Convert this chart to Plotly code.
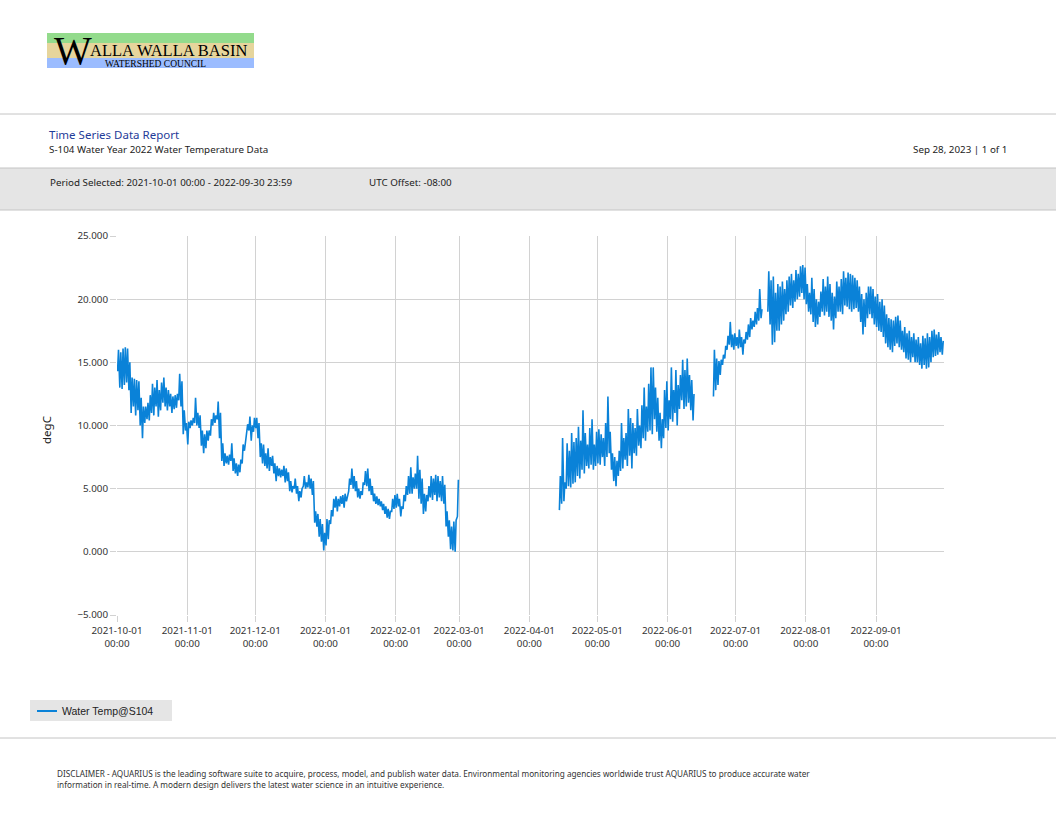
import pandas as pd
import plotly.graph_objs as go

# daily low / high water temperature (degC), per continuous run of data
seg1_start = '2021-10-01'
seg1_lo = [14.3, 13.0, 12.9, 13.2, 13.4, 12.8, 11.0, 11.5, 10.8, 11.2, 10.0, 9.0, 10.2, 10.5, 10.4, 11.0,
           10.8, 11.5, 10.7, 11.2, 11.8, 11.5, 11.2, 11.5, 11.0, 11.3, 11.4, 12.0, 11.5, 9.3, 9.6,
           # Nov
           8.5, 9.8, 10.0, 10.2, 10.0, 9.8, 8.4, 7.8, 8.2, 8.8, 9.2, 10.0, 10.2, 10.5, 9.0, 7.2,
           6.8, 7.0, 6.9, 7.2, 6.4, 6.2, 6.0, 6.3, 7.0, 8.0, 9.2, 9.6, 8.8, 9.5,
           # Dec
           9.8, 9.0, 7.5, 7.0, 6.8, 6.6, 6.4, 6.8, 6.2, 5.6, 6.0, 5.9, 6.0, 5.5, 5.6, 4.8,
           4.7, 5.0, 4.6, 4.0, 4.3, 5.2, 5.0, 5.1, 5.0, 4.5, 2.3, 2.0, 1.2, 0.8, 0.1,
           # Jan
           0.5, 1.0, 2.2, 2.8, 3.5, 3.2, 3.6, 3.8, 3.5, 4.0, 4.8, 5.3, 5.0, 4.8, 4.3, 4.2,
           4.5, 5.3, 5.2, 4.8, 4.5, 4.0, 3.8, 3.7, 3.6, 3.3, 3.0, 2.7, 2.6, 3.2, 3.4,
           # Feb
           3.5, 3.6, 2.8, 3.4, 4.0, 4.5, 4.6, 4.6, 5.0, 5.0, 4.2, 3.8, 3.0, 3.2, 4.0, 4.3,
           4.1, 4.5, 4.0, 4.3, 4.0, 3.8, 2.0, 1.2, 0.2, 0.1, 0.0, 2.8]
seg1_hi = [16.0, 15.8, 16.1, 16.2, 16.1, 15.0, 13.8, 13.7, 13.6, 13.5, 12.2, 11.5, 11.5, 11.8, 12.4, 13.3,
           13.0, 13.6, 12.8, 13.4, 13.8, 13.0, 12.8, 12.5, 12.3, 12.4, 12.5, 14.1, 13.5, 11.2, 10.2,
           10.3, 10.4, 10.6, 12.2, 11.0, 10.8, 9.6, 9.3, 9.6, 9.6, 10.5, 11.0, 10.8, 11.9, 11.0, 8.6,
           7.8, 7.6, 7.7, 8.6, 7.4, 7.0, 6.9, 7.3, 8.5, 8.6, 10.1, 10.7, 10.0, 10.6,
           10.6, 10.2, 8.6, 8.5, 7.8, 8.2, 7.5, 7.6, 7.0, 6.8, 6.6, 6.5, 6.8, 6.6, 6.3, 5.6,
           5.2, 5.8, 5.2, 4.8, 5.0, 6.0, 5.5, 6.1, 5.8, 5.6, 3.2, 3.0, 2.6, 2.2, 1.5,
           2.6, 2.5, 3.3, 4.2, 4.4, 4.2, 4.4, 4.5, 4.6, 4.5, 5.8, 6.6, 6.0, 5.6, 5.0, 4.8,
           5.5, 6.4, 6.6, 5.8, 5.2, 4.6, 4.4, 4.2, 4.0, 3.8, 3.6, 3.4, 3.2, 4.2, 4.5,
           4.6, 4.2, 3.6, 4.5, 5.2, 6.0, 6.7, 5.9, 6.2, 7.6, 6.5, 5.8, 4.6, 4.5, 5.2, 6.0,
           5.8, 6.1, 6.0, 5.6, 6.0, 5.3, 3.2, 2.5, 2.0, 2.4, 2.5, 5.7]

seg2_start = '2022-04-14'
seg2_lo = [3.3, 3.8, 4.0, 5.0, 5.2, 5.1, 5.4, 5.5, 6.0, 5.8, 6.5, 6.2, 6.8, 6.6, 6.9, 6.5, 6.8,
           # May
           7.0, 6.9, 7.5, 6.8, 7.5, 7.8, 6.5, 5.6, 5.2, 6.0, 6.4, 6.6, 7.3, 6.8, 7.6, 6.6,
           7.8, 7.6, 8.4, 8.2, 9.0, 8.8, 9.5, 9.6, 9.3, 10.5, 9.5, 8.8, 8.2, 9.0, 9.8,
           # Jun
           9.6, 10.5, 10.3, 11.0, 10.0, 11.3, 12.0, 11.3, 11.5, 11.8, 11.2, 10.4]
seg2_hi = [6.0, 9.0, 5.5, 8.6, 8.0, 9.4, 8.7, 9.0, 9.9, 8.8, 11.2, 9.4, 8.5, 9.8, 10.5, 8.5, 9.5,
           9.7, 9.3, 9.0, 10.2, 12.3, 9.5, 7.8, 7.5, 7.2, 8.0, 10.2, 9.0, 9.4, 11.3, 10.6, 10.2,
           9.8, 11.3, 10.0, 11.6, 13.0, 11.5, 13.3, 14.6, 14.6, 13.0, 12.2, 11.0, 10.5, 12.8, 13.5,
           12.0, 14.6, 12.8, 14.4, 13.2, 14.0, 15.2, 14.4, 15.3, 14.0, 13.6, 12.5]

seg3_start = '2022-06-21'
seg3_lo = [12.3, 12.8, 13.2, 14.0, 14.8, 15.3, 16.0, 16.4, 16.2, 16.0,
           16.3, 16.1, 16.2, 15.6, 16.5, 16.8, 17.0, 17.6, 17.8, 18.0, 18.3, 18.5]
seg3_hi = [16.0, 15.3, 15.1, 15.2, 15.6, 16.3, 17.1, 18.2, 17.2, 17.3,
           17.0, 17.6, 17.0, 16.8, 17.4, 18.0, 18.5, 18.3, 19.0, 19.3, 20.8, 19.2]

seg4_start = '2022-07-15'
seg4_lo = [19.0, 18.0, 16.4, 16.6, 17.5, 17.5, 18.0, 18.3, 18.8, 19.0, 19.5, 19.3, 19.8, 20.0, 20.2, 20.5, 20.0,
           # Aug
           19.6, 19.0, 18.8, 18.2, 17.8, 18.0, 18.6, 19.0, 18.7, 19.0, 18.6, 18.3, 17.6, 18.5, 19.0, 19.0,
           18.8, 19.5, 19.4, 19.2, 19.0, 19.2, 19.3, 19.0, 18.2, 17.2, 17.8, 18.5, 18.8, 18.5, 18.0,
           # Sep
           17.8, 17.5, 17.4, 17.0, 16.5, 16.2, 16.0, 15.8, 16.3, 16.5, 16.2, 16.0, 15.8, 15.3, 15.2,
           15.0, 15.4, 15.0, 15.0, 14.8, 14.5, 14.8, 14.5, 14.6, 15.0, 15.4, 15.5, 15.6, 15.8, 15.6]
seg4_hi = [22.2, 21.5, 21.8, 20.5, 21.2, 21.0, 21.4, 20.8, 21.5, 21.8, 22.0, 21.5, 22.3, 22.0, 22.6, 22.7, 22.5,
           21.2, 20.5, 21.7, 20.8, 20.0, 19.8, 20.6, 21.6, 21.0, 21.8, 21.2, 20.5, 20.2, 21.4, 21.0, 21.6,
           22.2, 21.7, 22.1, 22.0, 21.9, 21.7, 21.5, 21.0, 20.4, 20.0, 20.5, 21.0, 21.0, 20.8, 20.2,
           20.4, 19.8, 20.0, 19.5, 18.8, 18.5, 18.4, 18.3, 18.6, 18.7, 18.3, 17.5, 17.8, 17.3, 17.5,
           17.0, 17.3, 16.8, 17.0, 16.5, 17.1, 16.9, 17.3, 17.0, 17.5, 17.6, 17.2, 17.4, 17.0, 16.7]

segments = [(seg1_start, seg1_lo, seg1_hi), (seg2_start, seg2_lo, seg2_hi),
            (seg3_start, seg3_lo, seg3_hi), (seg4_start, seg4_lo, seg4_hi)]

x_ticks = pd.date_range('2021-10-01', '2022-09-01', freq='MS')

# page geometry (pixels) of the plot area, used to place the report furniture
W, H = 1056, 816
L, R, T, B = 117, 944, 236, 615
LINE_COLOR = '#0a82d8'


def px(x):
    return (x - L) / (R - L)


def py(y):
    return (B - y) / (B - T)


def build_series(segs):
    xs, ys = [], []
    for start, lo, hi in segs:
        day0 = pd.Timestamp(start)
        for i, (a, b) in enumerate(zip(lo, hi)):
            d = day0 + pd.Timedelta(days=i)
            xs += [d + pd.Timedelta(hours=6), d + pd.Timedelta(hours=16)]
            ys += [a, b]
        xs.append(xs[-1] + pd.Timedelta(hours=1))
        ys.append(None)
    return xs, ys


xs, ys = build_series(segments)

fig = go.Figure(go.Scatter(
    name='Water Temp@S104',
    x=xs, y=ys,
    mode='lines',
    connectgaps=False,
    showlegend=False,
    line=dict(color=LINE_COLOR, width=1.6),
))

grid = '#d2d2d2'
tickfont = dict(family='Noto Sans, Open Sans, sans-serif', size=9.8, color='#333333')
fig.update_xaxes(type='date', range=['2021-10-01', '2022-09-30 23:59'],
                 tickvals=x_ticks, tickformat='%Y-%m-%d<br>%H:%M',
                 showgrid=True, gridcolor=grid, gridwidth=1, zeroline=False,
                 ticks='outside', ticklen=6, tickcolor=grid, tickfont=tickfont, showline=False)
fig.update_yaxes(range=[-5, 25], dtick=5, tickformat='.3f',
                 showgrid=True, gridcolor=grid, gridwidth=1, zeroline=False,
                 ticks='outside', ticklen=6, tickcolor=grid, tickfont=tickfont, showline=False)

rule = dict(type='line', xref='paper', yref='paper', line=dict(color='#c4c4c4', width=1))
box = dict(type='rect', xref='paper', yref='paper', line=dict(width=0), layer='below')
shapes = [
    # logo stripes
    dict(box, x0=px(47), x1=px(254), y0=py(43), y1=py(33), fillcolor='#93db8c'),
    dict(box, x0=px(47), x1=px(254), y0=py(58), y1=py(43), fillcolor='#e6d59c'),
    dict(box, x0=px(47), x1=px(254), y0=py(68), y1=py(58), fillcolor='#9bbcff'),
    dict(rule, x0=px(0), x1=px(W), y0=py(114), y1=py(114)),
    # grey band with the period selected
    dict(box, x0=px(0), x1=px(W), y0=py(210), y1=py(168), fillcolor='#e5e5e5'),
    dict(rule, x0=px(0), x1=px(W), y0=py(168), y1=py(168)),
    dict(rule, x0=px(0), x1=px(W), y0=py(210), y1=py(210)),
    # legend box
    dict(box, x0=px(30), x1=px(172), y0=py(721), y1=py(700), fillcolor='#e5e5e5'),
    dict(type='line', xref='paper', yref='paper', x0=px(37), x1=px(57), y0=py(711), y1=py(711),
         line=dict(color=LINE_COLOR, width=2)),
    dict(rule, x0=px(0), x1=px(W), y0=py(738), y1=py(738)),
]

hdr = 'Noto Sans, Open Sans, sans-serif'
serif = 'Liberation Serif, serif'


def note(x, y, text, size, color='#222222', family=hdr, xanchor='left', **kw):
    return dict(x=px(x), y=py(y), xref='paper', yref='paper', text=text, showarrow=False,
                xanchor=xanchor, yanchor='middle', borderpad=0,
                font=dict(family=family, size=size, color=color), **kw)


annotations = [
    note(53, 51, 'W', 40, color='black', family=serif),
    note(89, 51, 'ALLA WALLA BASIN', 16.5, color='black', family=serif),
    note(104, 64, 'WATERSHED COUNCIL', 9.5, color='black', family=serif),
    note(48, 134, 'Time Series Data Report', 11.5, color='#1f3c99'),
    note(48, 150, 'S-104 Water Year 2022 Water Temperature Data', 9.8),
    note(1008, 150, 'Sep 28, 2023 | 1 of 1', 9.8, xanchor='right'),
    note(49, 183, 'Period Selected: 2021-10-01 00:00 - 2022-09-30 23:59', 9.8),
    note(368, 183, 'UTC Offset: -08:00', 9.8),
    note(46, 430, 'degC', 11.5, color='#222222', textangle=-90, xanchor='center'),
    note(61, 711, 'Water Temp@S104', 10.5, family='Liberation Sans, Arial, sans-serif'),
    note(56, 779, 'DISCLAIMER - AQUARIUS is the leading software suite to acquire, process, model, and publish '
                  'water data. Environmental monitoring agencies worldwide trust AQUARIUS to produce accurate water'
                  '<br>information in real-time. A modern design delivers the latest water science in an intuitive '
                  'experience.', 8.2, color='#333333', align='left'),
]

fig.update_layout(
    width=W, height=H, autosize=False,
    margin=dict(l=L, r=W - R, t=T, b=H - B, pad=0),
    paper_bgcolor='white', plot_bgcolor='white',
    shapes=shapes, annotations=annotations,
)

# the report page has no body margin and no toolbar
fig.write_html("out.html", config={'displayModeBar': False},
               post_script="document.body.style.margin='0';")
